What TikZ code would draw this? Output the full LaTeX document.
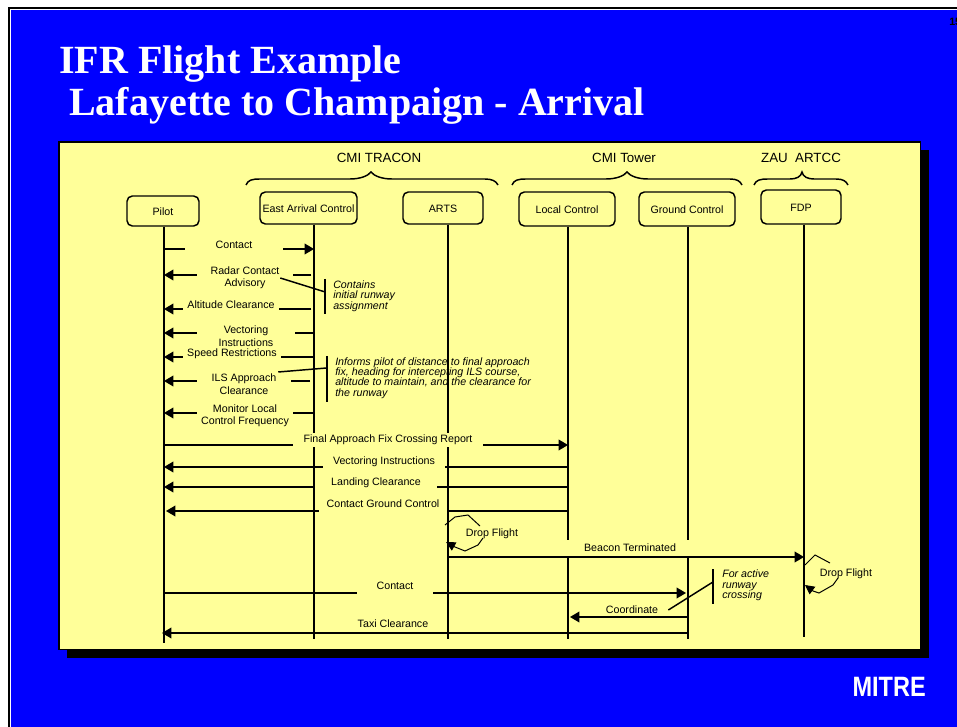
\documentclass[tikz,border=0pt]{standalone}
\usepackage{fontspec}
\setmainfont{Liberation Sans}
\newfontfamily\titlefont{Liberation Serif}
\usetikzlibrary{arrows.meta,positioning,calc}
\definecolor{slideblue}{RGB}{0,0,255}
\definecolor{panelyellow}{RGB}{255,255,153}
\begin{document}
\begin{tikzpicture}[x=0.75pt,y=-0.75pt,>={Triangle[length=7pt,width=8pt]},
    actor/.style={draw=black,line width=1.1pt,rounded corners=4pt,fill=panelyellow,inner sep=0pt,text height=7pt,text depth=0pt,font=\fontsize{8}{9}\selectfont},
    head/.style={inner sep=0pt,text height=9pt,text depth=0pt,font=\fontsize{10}{12}\selectfont},
    msg/.style={inner sep=0pt,fill=panelyellow,align=center,font=\fontsize{8}{9.3}\selectfont},
    plain/.style={inner sep=0pt,font=\fontsize{8}{9}\selectfont},
    note/.style={inner sep=0pt,anchor=west,align=left,font=\fontsize{8}{7.8}\selectfont\itshape},
    slide/.style={inner sep=0pt,anchor=base west,text=white,font=\fontsize{30}{36}\selectfont\titlefont\bfseries},
    life/.style={line width=1.1pt},
    flow/.style={line width=1.1pt,->},
    thinline/.style={line width=0.75pt}]
  \useasboundingbox (0,0) rectangle (957,727);
  % slide background
  \fill[white] (0,0) rectangle (957,727);
  \fill[black] (8,7) rectangle (957,727);
  \fill[white] (10,9) rectangle (957,727);
  \fill[slideblue] (11,10) rectangle (957,727);
  \fill[black] (67,150) rectangle (929,658);
  \draw[line width=1.1pt,fill=panelyellow] (59,142) rectangle (920.5,649.5);
  % titles
  \node[slide] (title1) at (59,74) {IFR Flight Example};
  \node[slide] (title2) at (69,116) {Lafayette to Champaign - Arrival};
  \node[inner sep=0pt,anchor=west,font=\fontsize{8}{9}\selectfont\bfseries] (page) at (949,22) {15};
  \node[inner sep=0pt,anchor=base east,text=white,font=\fontsize{21}{24}\selectfont\bfseries] (logo) at (926,696) {\scalebox{0.84}[1]{MITRE}};
  % groups
  \node[head] (tracon) at (379,157) {CMI TRACON};
  \node[head] (tower) at (624,157) {CMI Tower};
  \node[head] (artcc) at (801,157) {ZAU\ \ ARTCC};
  \draw[line width=1.1pt] (246,185) .. controls (248,180) and (252,179) .. (260,179) -- (350,179) .. controls (360,179) and (368,176) .. (371,172) .. controls (374,176) and (382,179) .. (392,179) -- (485,179) .. controls (492,179) and (496,181) .. (498,185);
  \draw[line width=1.1pt] (512,185) .. controls (514,180) and (518,179) .. (526,179) -- (606,179) .. controls (616,179) and (624,176) .. (627,172) .. controls (630,176) and (638,179) .. (648,179) -- (730,179) .. controls (737,179) and (740,181) .. (742,185);
  \draw[line width=1.1pt] (754,185) .. controls (756,180) and (760,179) .. (768,179) -- (790,179) .. controls (796,179) and (801,177) .. (802,172) .. controls (803,177) and (808,179) .. (814,179) -- (836,179) .. controls (843,179) and (846,181) .. (848,185);
  % actors
  \node[actor,minimum width=72*0.75pt,minimum height=30*0.75pt] (pilot) at (163,211) {Pilot};
  \node[actor,minimum width=97*0.75pt,minimum height=32*0.75pt] (east) at (308.5,208) {East Arrival Control};
  \node[actor,minimum width=80*0.75pt,minimum height=32*0.75pt] (arts) at (443,208) {ARTS};
  \node[actor,minimum width=96*0.75pt,minimum height=34*0.75pt] (local) at (567,209) {Local Control};
  \node[actor,minimum width=96*0.75pt,minimum height=34*0.75pt] (ground) at (687,209) {Ground Control};
  \node[actor,minimum width=80*0.75pt,minimum height=34*0.75pt] (fdp) at (801,207) {FDP};
  % lifelines
  \coordinate (pilotB) at (164,643);
  \coordinate (eastB) at (314,639);
  \coordinate (artsB) at (448,639);
  \coordinate (localB) at (568,639);
  \coordinate (groundB) at (688,639);
  \coordinate (fdpB) at (804,637);
  \draw[life] (pilot.south -| pilotB) -- (pilotB);
  \draw[life] (east.south -| eastB) -- (eastB);
  \draw[life] (arts.south -| artsB) -- (artsB);
  \draw[life] (local.south -| localB) -- (localB);
  \draw[life] (ground.south -| groundB) -- (groundB);
  \draw[life] (fdp.south -| fdpB) -- (fdpB);
  % messages
  \draw[flow] (pilotB |- 0,249) -- (eastB |- 0,249);
  \draw[flow,shorten <=2pt] (eastB |- 0,275) -- (pilotB |- 0,275);
  \draw[flow,shorten <=2pt] (eastB |- 0,309) -- (pilotB |- 0,309);
  \draw[flow] (eastB |- 0,333) -- (pilotB |- 0,333);
  \draw[flow] (eastB |- 0,357) -- (pilotB |- 0,357);
  \draw[flow,shorten <=3pt] (eastB |- 0,381) -- (pilotB |- 0,381);
  \draw[flow] (eastB |- 0,413) -- (pilotB |- 0,413);
  \draw[flow] (pilotB |- 0,445) -- (localB |- 0,445);
  \draw[flow] (localB |- 0,467) -- (pilotB |- 0,467);
  \draw[flow] (localB |- 0,487) -- (pilotB |- 0,487);
  \draw[flow,shorten >=1.5pt] (localB |- 0,511) -- (pilotB |- 0,511);
  \draw[flow] (artsB |- 0,557) -- (fdpB |- 0,557);
  \draw[flow,shorten >=1.5pt] (pilotB |- 0,593) -- (groundB |- 0,593);
  \draw[flow,shorten >=1.5pt] (groundB |- 0,617) -- (localB |- 0,617);
  \draw[flow,shorten >=-1.5pt] (groundB |- 0,633) -- (pilotB |- 0,633);
  % message labels
  \node[msg,minimum width=98*0.75pt,minimum height=15*0.75pt] (m1) at (234,244.5) {Contact};
  \node[msg,minimum width=96*0.75pt,minimum height=26*0.75pt] (m2) at (245,277.5) {Radar Contact\\Advisory};
  \node[msg,minimum width=96*0.75pt,minimum height=14*0.75pt] (m3) at (231,305) {Altitude Clearance};
  \node[msg,minimum width=98*0.75pt,minimum height=26*0.75pt] (m4) at (246,336) {Vectoring\\Instructions};
  \node[msg,minimum width=98*0.75pt,minimum height=13*0.75pt] (m5) at (232,353.5) {Speed Restrictions};
  \node[msg,minimum width=94*0.75pt,minimum height=26*0.75pt] (m6) at (244,384) {ILS Approach\\Clearance};
  \node[msg,minimum width=96*0.75pt,minimum height=26*0.75pt] (m7) at (245,416) {Monitor Local\\Control Frequency};
  \node[msg,minimum width=190*0.75pt,minimum height=14.5*0.75pt] (m8) at (388,440) {Final Approach Fix Crossing Report};
  \node[msg,minimum width=122*0.75pt,minimum height=15*0.75pt] (m9) at (384,462) {Vectoring Instructions};
  \node[msg,minimum width=122*0.75pt,minimum height=15*0.75pt] (m10) at (376,482.5) {Landing Clearance};
  \node[msg,minimum width=128*0.75pt,minimum height=18*0.75pt] (m11) at (383,503.5) {Contact Ground Control};
  \node[msg,minimum width=140*0.75pt,minimum height=16*0.75pt] (m12) at (630,548) {Beacon Terminated};
  \node[msg,minimum width=76*0.75pt,minimum height=18*0.75pt] (m13) at (395,586) {Contact};
  \node[plain] (m14) at (632,610) {Coordinate};
  \node[plain] (m15) at (393,623.5) {Taxi Clearance};
  % notes
  \node[note] (n1) at (333,296) {Contains\\initial runway\\assignment};
  \node[note] (n2) at (335,378) {Informs pilot of distance to final approach\\fix, heading for intercepting ILS course,\\altitude to maintain, and the clearance for\\the runway};
  \node[note] (n3) at (722,585.5) {For active\\runway\\crossing};
  \coordinate (b1a) at (325,279);
  \coordinate (b1b) at (325,314);
  \coordinate (b2a) at (327,356);
  \coordinate (b2b) at (327,402);
  \coordinate (b3a) at (713,569);
  \coordinate (b3b) at (713,604);
  \draw[life] (b1a) -- (b1b);
  \draw[life] (b2a) -- (b2b);
  \draw[life] (b3a) -- (b3b);
  \draw[life] (m2.east |- 0,278) ++(-13,0) -- ($(b1a)!0.37!(b1b)$);
  \draw[life] (m6.east |- 0,372) ++(-13,0) -- ($(b2a)!0.26!(b2b)$);
  \draw[life] (m14.east |- 0,610) ++(10,0) -- ($(b3a)!0.37!(b3b)$);
  % drop flight loops
  \node[plain] (d1) at (492,533.5) {Drop Flight};
  \node[plain] (d2) at (846,574) {Drop Flight};
  \draw[thinline] (445,525) -- (455,517) -- (468,515) -- (480,526);
  \draw[thinline,->,>={Triangle[length=7pt,width=7pt]}] (483,538) -- (478,545) -- (465,551) -- (455,547) -- (446,542);
  \draw[thinline] (805,565) -- (815,555) -- (830,563);
  \draw[thinline,->,>={Triangle[length=7pt,width=7pt]}] (838,578) -- (833,585) -- (819,593) -- (813,591) -- (805,585);
\end{tikzpicture}
\end{document}
